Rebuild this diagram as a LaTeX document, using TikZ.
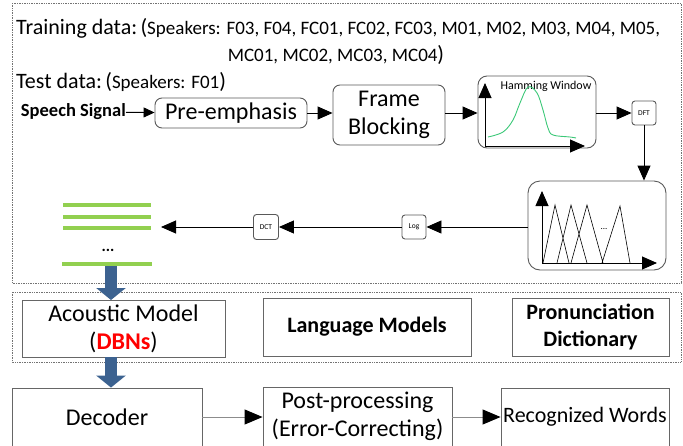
\documentclass[tikz,border=0pt]{standalone}
\usepackage{fontspec}
\setmainfont{Carlito}
\usetikzlibrary{arrows.meta}
\definecolor{featgreen}{HTML}{92D050}
\definecolor{flowblue}{HTML}{3C6290}
\definecolor{curvegreen}{HTML}{3CC878}

\begin{document}
\begin{tikzpicture}[x=1pt,y=-1pt,
  flow/.style={line width=0.9pt,-{Triangle[length=15pt,width=13pt]}},
  smallflow/.style={line width=0.9pt,-{Triangle[length=11pt,width=10pt]}},
  greyflow/.style={line width=1pt,draw=black!45,-{Triangle[length=18pt,width=15pt,color=black]}},
  bigflow/.style={line width=12.5pt,draw=flowblue,-{Triangle[length=12pt,width=29pt]}},
  roundbox/.style={draw=black!65,line width=0.9pt,rounded corners=7pt,inner sep=0pt,align=center},
  tinybox/.style={draw=black!65,line width=0.9pt,rounded corners=3pt,inner sep=0pt,
    minimum width=24pt,minimum height=24pt,font=\fontsize{7.5}{8}\selectfont},
  plainbox/.style={draw=black!60,line width=0.9pt,inner sep=0pt,align=center},
  region/.style={draw=black!55,line width=0.8pt,dash pattern=on 1pt off 0.7pt},
  featline/.style={draw=featgreen,line width=4pt},
  big/.style={font=\fontsize{24}{28}\selectfont},
]
\clip (0,0) rectangle (683,445);

% ---------- front-end region ----------
\draw[region] (12,3) rectangle (681,283);

\node[anchor=west,inner sep=0pt] (train) at (16,28)
  {\fontsize{22}{26}\selectfont Training data:\hspace{0.15em}(\fontsize{19}{23}\selectfont Speakers: F03, F04, FC01, FC02, FC03, M01, M02, M03, M04, M05,};
\node[inner sep=0pt] (train2) at (336,55)
  {\fontsize{19}{23}\selectfont MC01, MC02, MC03, MC04\fontsize{22}{26}\selectfont)};
\node[anchor=west,inner sep=0pt] (test) at (16,82)
  {\fontsize{22}{26}\selectfont Test data:\hspace{0.15em}(\fontsize{19}{23}\selectfont Speakers: F01\fontsize{22}{26}\selectfont)};

\node[anchor=east,inner sep=0pt,font=\fontsize{18.5}{22}\selectfont\bfseries] (sig) at (126,112) {Speech Signal};
\node[roundbox,big,minimum width=152pt,minimum height=30pt] (pre) at (231,113) {Pre-emphasis};
\node[roundbox,big,minimum width=112pt,minimum height=60pt] (frame) at (389,115) {Frame\\Blocking};

% Hamming window sketch
\node[roundbox,rounded corners=9pt,minimum width=118pt,minimum height=72pt] (ham) at (537,112) {};
\node[inner sep=0pt,font=\fontsize{12}{14}\selectfont] (hamlbl) at (546,86) {Hamming Window};
\coordinate (hamO) at (485,146);
\draw[flow] (hamO) -- (485,83);
\draw[flow] (hamO) -- (585,146);
\draw[curvegreen,line width=0.9pt] plot[smooth,tension=0.6] coordinates
  {(488,137) (503,132) (513,120) (520,103) (528,87) (537,93) (543,110) (548,128) (553,135) (570,137) (576,138)};

\node[tinybox] (dft) at (644,113) {DFT};

% Mel filter bank sketch
\node[roundbox,rounded corners=12pt,minimum width=138pt,minimum height=89pt] (mel) at (597,225.5) {};
\coordinate (melO) at (542,263);
\draw[flow] (melO) -- (542,191);
\draw[flow] (melO) -- (657,263);
\draw[line width=0.6pt] (543,263) -- (555,205) -- (569,263)
  (557,263) -- (571,205) -- (587,263)
  (571,263) -- (587,205) -- (603,263)
  (602,263) -- (620,206) -- (630,263);
\node[inner sep=0pt,font=\fontsize{9}{10}\selectfont] (meldots) at (604,229) {...};

\node[tinybox] (log) at (414,227) {Log};
\node[tinybox,minimum width=25pt,minimum height=25pt] (dct) at (266,227) {DCT};
\coordinate (featin) at (161,227);

% feature vectors
\draw[featline] (63,205) -- (151,205);
\draw[featline] (63,217) -- (151,217);
\draw[featline] (63,228) -- (151,228);
\node[inner sep=0pt,font=\fontsize{16}{18}\selectfont\bfseries] (featdots) at (108,250) {...};
\draw[featline] (62,264) -- (152,264);
\coordinate (featout) at (111,266);

\draw[smallflow] (sig) -- (pre);
\draw[flow] (pre.east) -- (frame.west |- pre.east);
\draw[flow] (frame.east |- pre.east) -- (ham.west |- pre.east);
\draw[flow] (ham.east |- dft.west) -- (dft.west);
\draw[flow] (dft.south) -- (mel.north -| dft.south);
\draw[flow] (mel.west |- log.east) -- (log.east);
\draw[flow] (log.west) -- (dct.east);
\draw[flow] (dct.west) -- (featin);

% ---------- model region ----------
\draw[region] (12,292) rectangle (681,362);
\node[plainbox,big,minimum width=203pt,minimum height=57pt] (ac) at (123.5,328.5)
  {Acoustic Model\\(\textcolor{red}{\bfseries DBNs})};
\node[plainbox,minimum width=208pt,minimum height=58pt,font=\fontsize{22}{26}\selectfont\bfseries] (lm) at (367,327) {Language Models};
\node[plainbox,minimum width=157pt,minimum height=58pt,font=\fontsize{22}{27}\selectfont\bfseries] (pd) at (590.5,327) {Pronunciation\\Dictionary};

\coordinate (acin) at (111,300);
\coordinate (acout) at (111,357);
\draw[bigflow] (featout) -- (acin);

% ---------- decoding region ----------
\node[plainbox,big,minimum width=190pt,minimum height=58pt] (dec) at (107,417) {Decoder};
\node[plainbox,big,minimum width=189pt,minimum height=59pt] (post) at (357.5,416.5) {Post-processing\\(Error-Correcting)};
\node[plainbox,minimum width=168pt,minimum height=58pt,font=\fontsize{22}{26}\selectfont] (rec) at (585,417) {Recognized Words};

\draw[bigflow] (acout) -- (dec.north -| acout);
\draw[greyflow] (dec.east) -- (post.west |- dec.east);
\draw[greyflow] (post.east |- dec.east) -- (rec.west |- dec.east);
\end{tikzpicture}
\end{document}
